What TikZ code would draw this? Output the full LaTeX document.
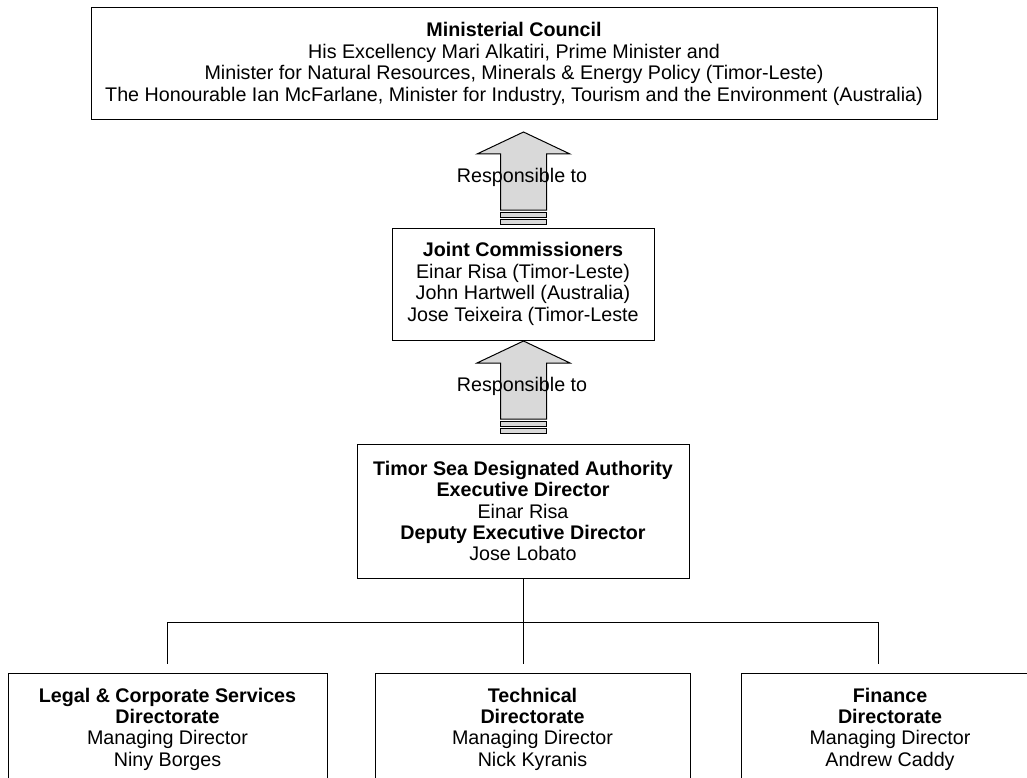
\documentclass[tikz,border=0pt]{standalone}
\usepackage{fontspec}
\setmainfont{Liberation Sans}
\begin{document}
\begin{tikzpicture}[x=1pt,y=-1pt,
  every node/.style={font=\fontsize{19.7}{21.4}\selectfont},
  box/.style={draw=black,line width=1pt,align=center,inner sep=0pt,fill=white},
  conn/.style={draw=black,line width=1pt},
  arrowbody/.style={draw=black,line width=1pt,fill=black!15},
  lbl/.style={inner sep=0pt}]
\useasboundingbox (0,0) rectangle (1027,778);
\clip (0,0) rectangle (1027,778);
\newcommand\stripedup[1]{%
  \begin{scope}[shift={(#1)}]
    \path[arrowbody] (0,0) -- (46.5,22) -- (23,22) -- (23,78) -- (-23,78) -- (-23,22) -- (-46.5,22) -- cycle;
    \path[arrowbody] (-23,80) rectangle (23,85);
    \path[arrowbody] (-23,87) rectangle (23,92);
  \end{scope}}

\node[box,minimum width=846,minimum height=112] (council) at (514,64)
  {\textbf{Ministerial Council}\\His Excellency Mari Alkatiri, Prime Minister and\\Minister for Natural Resources, Minerals \& Energy Policy (Timor-Leste)\\The Honourable Ian McFarlane, Minister for Industry, Tourism and the Environment (Australia)};

\node[box,minimum width=262,minimum height=112] (jc) at (523,284)
  {\textbf{Joint Commissioners}\\Einar Risa (Timor-Leste)\\John Hartwell (Australia)\\Jose Teixeira (Timor-Leste};

\node[box,minimum width=332,minimum height=134] (tsda) at (523,511)
  {\textbf{Timor Sea Designated Authority}\\\textbf{Executive Director}\\Einar Risa\\\textbf{Deputy Executive Director}\\Jose Lobato};

\node[box,minimum width=319,minimum height=112] (legal) at (167.5,729)
  {\textbf{Legal \& Corporate Services}\\\textbf{Directorate}\\Managing Director\\Niny Borges};
\node[box,minimum width=315,minimum height=112] (tech) at (532.5,729)
  {\textbf{Technical}\\\textbf{Directorate}\\Managing Director\\Nick Kyranis};
\node[box,minimum width=298,minimum height=112] (fin) at (890,729)
  {\textbf{Finance}\\\textbf{Directorate}\\Managing Director\\Andrew Caddy};

\coordinate (tip1) at (523.5,132);
\coordinate (tip2) at (523.5,341);
\stripedup{tip1}
\stripedup{tip2}
\node[lbl] (r1) at (522,177) {Responsible to};
\node[lbl] (r2) at (522,386) {Responsible to};

\coordinate (jM) at (523,622);
\coordinate (jL) at (167,622);
\coordinate (jR) at (878,622);
\coordinate (eL) at (167,664);
\coordinate (eM) at (523,664);
\coordinate (eR) at (878,664);
\draw[conn] (tsda.south -| jM) -- (jM);
\draw[conn] (jL) -- (jR);
\draw[conn] (jL) -- (eL);
\draw[conn] (jM) -- (eM);
\draw[conn] (jR) -- (eR);
\end{tikzpicture}
\end{document}
